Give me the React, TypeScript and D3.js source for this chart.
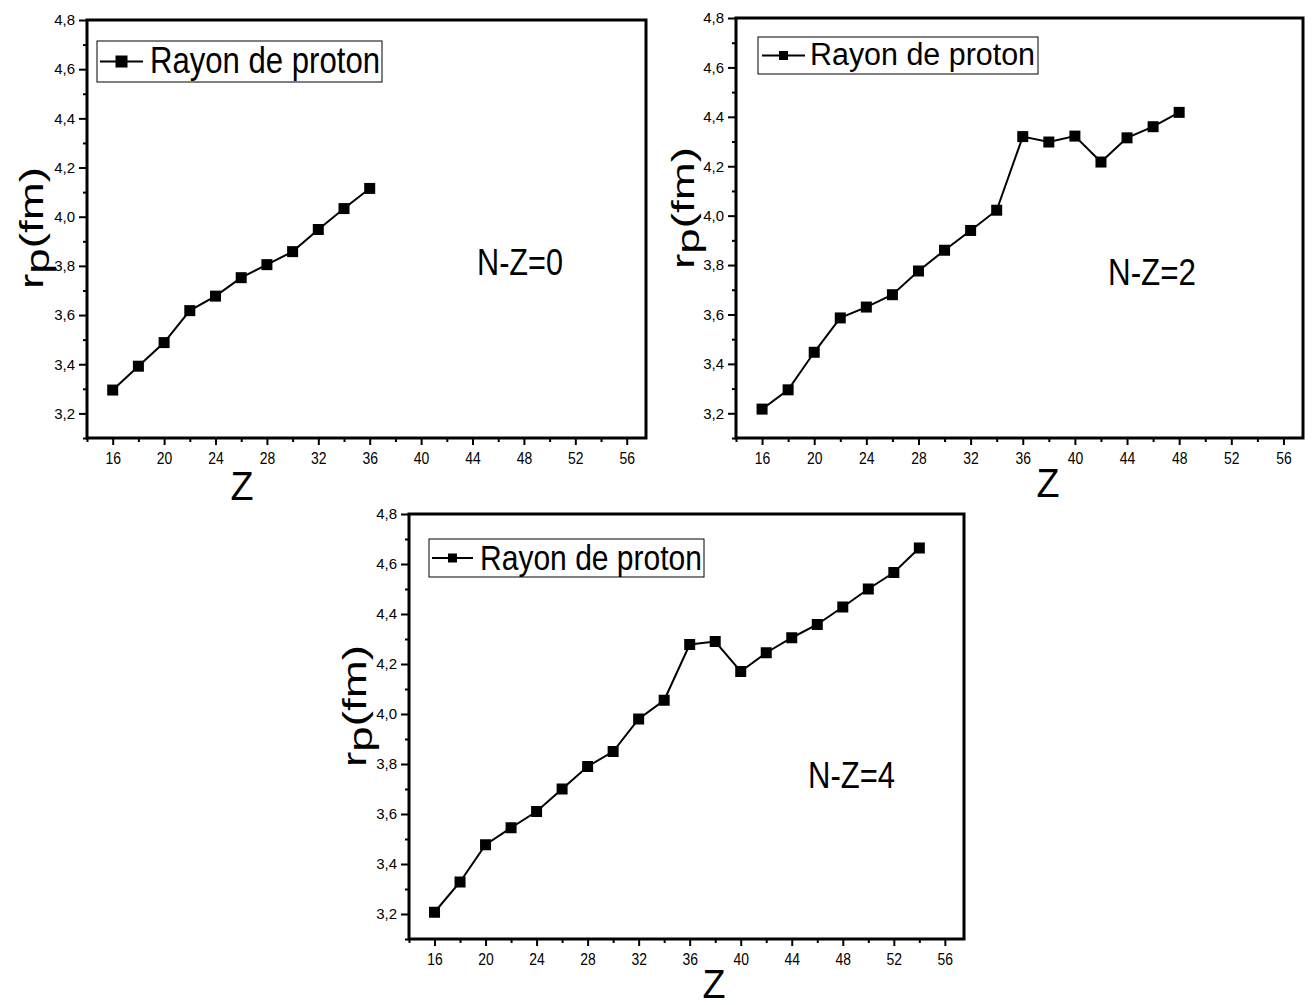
import React, { useEffect, useRef } from "react";
import * as d3 from "d3";

// proton radius r_p (fm) versus Z, one series per N-Z
const zNZ0 = [16, 18, 20, 22, 24, 26, 28, 30, 32, 34, 36];
const rpNZ0 = [3.295, 3.392, 3.488, 3.618, 3.677, 3.752, 3.805, 3.858, 3.948, 4.033, 4.115];

const zNZ2 = [16, 18, 20, 22, 24, 26, 28, 30, 32, 34, 36, 38, 40, 42, 44, 46, 48];
const rpNZ2 = [3.217, 3.295, 3.447, 3.586, 3.63, 3.68, 3.776, 3.86, 3.94, 4.022, 4.32, 4.298, 4.322, 4.217, 4.315, 4.36, 4.418];

const zNZ4 = [16, 18, 20, 22, 24, 26, 28, 30, 32, 34, 36, 38, 40, 42, 44, 46, 48, 50, 52, 54];
const rpNZ4 = [3.207, 3.328, 3.477, 3.545, 3.61, 3.7, 3.79, 3.85, 3.98, 4.055, 4.278, 4.29, 4.17, 4.245, 4.305, 4.358, 4.428, 4.5, 4.566, 4.664];

const xMajorTicks = [16, 20, 24, 28, 32, 36, 40, 44, 48, 52, 56];
const xMinorTicks = [14, 18, 22, 26, 30, 34, 38, 42, 46, 50, 54];
const yMajorTicks = [3.2, 3.4, 3.6, 3.8, 4.0, 4.2, 4.4, 4.6, 4.8];
const yMinorTicks = [3.1, 3.3, 3.5, 3.7, 3.9, 4.1, 4.3, 4.5, 4.7];

const legendLabel = "Rayon de proton";
const xTitle = "Z";
const noteLabels = ["N-Z=0", "N-Z=2", "N-Z=4"];

// layout of each panel (pixel boxes)
const panels = [
  {
    z: zNZ0, rp: rpNZ0, note: noteLabels[0],
    box: { left: 87, right: 646, top: 20, bottom: 438 },
    legend: { x0: 97, y0: 41, x1: 382, y1: 82, lx0: 100, lx1: 143, sq: 12, tx: 150, ty: 73, fs: 37, tl: 230 },
    noteAt: { x: 477, y: 275, fs: 37, tl: 86 },
    zAt: { x: 242, y: 500 },
    yAt: { x: 43, y: 228, sx: 0.74 },
  },
  {
    z: zNZ2, rp: rpNZ2, note: noteLabels[1],
    box: { left: 736, right: 1303, top: 18, bottom: 438 },
    legend: { x0: 758, y0: 37, x1: 1038, y1: 74, lx0: 762, lx1: 805, sq: 9, tx: 810, ty: 65, fs: 31, tl: 225 },
    noteAt: { x: 1108, y: 285, fs: 37, tl: 88 },
    zAt: { x: 1048, y: 497 },
    yAt: { x: 694, y: 208, sx: 0.68 },
  },
  {
    z: zNZ4, rp: rpNZ4, note: noteLabels[2],
    box: { left: 409, right: 964, top: 514, bottom: 939 },
    legend: { x0: 429, y0: 539, x1: 704, y1: 577, lx0: 432, lx1: 473, sq: 9, tx: 480, ty: 570, fs: 35, tl: 222 },
    noteAt: { x: 808, y: 788, fs: 37, tl: 87 },
    zAt: { x: 714, y: 998 },
    yAt: { x: 366, y: 706, sx: 0.72 },
  },
];

const FONT = "'Liberation Sans', Arial, sans-serif";

function drawPanel(svg: any, p: any) {
  const { box } = p;
  const x = d3.scaleLinear().domain([14, 57.5]).range([box.left, box.right]);
  const y = d3.scaleLinear().domain([3.1, 4.8]).range([box.bottom, box.top]);

  const g = svg.append("g");

  // frame
  g.append("rect")
    .attr("x", box.left).attr("y", box.top)
    .attr("width", box.right - box.left).attr("height", box.bottom - box.top)
    .attr("fill", "none").attr("stroke", "#000").attr("stroke-width", 3);

  // x axis: minor then major
  const xMinor = g.append("g")
    .attr("transform", `translate(0,${box.bottom})`)
    .call(d3.axisBottom(x).tickValues(xMinorTicks).tickSize(4).tickFormat(() => ""));
  const xMajor = g.append("g")
    .attr("transform", `translate(0,${box.bottom})`)
    .call(d3.axisBottom(x).tickValues(xMajorTicks).tickSize(7).tickPadding(7).tickFormat(d3.format("d")));

  const yMinor = g.append("g")
    .attr("transform", `translate(${box.left},0)`)
    .call(d3.axisLeft(y).tickValues(yMinorTicks).tickSize(4).tickFormat(() => ""));
  const yMajor = g.append("g")
    .attr("transform", `translate(${box.left},0)`)
    .call(d3.axisLeft(y).tickValues(yMajorTicks).tickSize(8).tickPadding(4)
      .tickFormat((d: any) => d3.format(".1f")(d).replace(".", ",")));

  [xMinor, xMajor, yMinor, yMajor].forEach((a) => {
    a.select(".domain").remove();
    a.selectAll("line").attr("stroke", "#000").attr("stroke-width", 2);
  });
  xMajor.selectAll("text")
    .attr("font-family", FONT).attr("font-size", 17).attr("fill", "#000")
    .attr("transform", "scale(0.82,1)");
  yMajor.selectAll("text")
    .attr("font-family", FONT).attr("font-size", 15).attr("fill", "#000");

  // series
  const pts = p.z.map((z: number, i: number) => [z, p.rp[i]]);
  const line = d3.line<any>().x((d) => x(d[0])).y((d) => y(d[1]));
  g.append("path")
    .attr("d", line(pts))
    .attr("fill", "none").attr("stroke", "#000").attr("stroke-width", 2);
  const s = 11;
  g.selectAll(".mk").data(pts).enter().append("rect")
    .attr("x", (d: any) => x(d[0]) - s / 2)
    .attr("y", (d: any) => y(d[1]) - s / 2)
    .attr("width", s).attr("height", s).attr("fill", "#000");

  // legend
  const L = p.legend;
  const ly = (L.y0 + L.y1) / 2;
  g.append("rect")
    .attr("x", L.x0).attr("y", L.y0).attr("width", L.x1 - L.x0).attr("height", L.y1 - L.y0)
    .attr("fill", "#fff").attr("stroke", "#000").attr("stroke-width", 1);
  g.append("line")
    .attr("x1", L.lx0).attr("x2", L.lx1).attr("y1", ly).attr("y2", ly)
    .attr("stroke", "#000").attr("stroke-width", 2);
  g.append("rect")
    .attr("x", (L.lx0 + L.lx1) / 2 - L.sq / 2).attr("y", ly - L.sq / 2)
    .attr("width", L.sq).attr("height", L.sq).attr("fill", "#000");
  g.append("text")
    .attr("x", L.tx).attr("y", L.ty)
    .attr("font-family", FONT).attr("font-size", L.fs)
    .attr("textLength", L.tl).attr("lengthAdjust", "spacingAndGlyphs")
    .text(legendLabel);

  // N-Z note
  g.append("text")
    .attr("x", p.noteAt.x).attr("y", p.noteAt.y)
    .attr("font-family", FONT).attr("font-size", p.noteAt.fs)
    .attr("textLength", p.noteAt.tl).attr("lengthAdjust", "spacingAndGlyphs")
    .text(p.note);

  // x title
  g.append("text")
    .attr("x", p.zAt.x).attr("y", p.zAt.y)
    .attr("text-anchor", "middle")
    .attr("font-family", FONT).attr("font-size", 40)
    .attr("textLength", 23).attr("lengthAdjust", "spacingAndGlyphs")
    .text(xTitle);

  // y title r_p(fm)
  const yt = g.append("text")
    .attr("transform", `translate(${p.yAt.x},${p.yAt.y}) scale(${p.yAt.sx},1) rotate(-90)`)
    .attr("text-anchor", "middle")
    .attr("font-family", FONT).attr("font-size", 46)
    .attr("textLength", 122).attr("lengthAdjust", "spacingAndGlyphs");
  yt.append("tspan").text("r");
  yt.append("tspan").attr("dy", 8).text("p");
  yt.append("tspan").attr("dy", -8).text("(fm)");
}

export default function App() {
  const ref = useRef<SVGSVGElement>(null);

  useEffect(() => {
    const svg = d3.select(ref.current);
    svg.selectAll("*").remove();
    panels.forEach((p) => drawPanel(svg, p));
  }, []);

  return (
    <svg
      ref={ref}
      width={1313}
      height={1005}
      style={{ position: "absolute", left: 0, top: 0, background: "#fff" }}
    />
  );
}
